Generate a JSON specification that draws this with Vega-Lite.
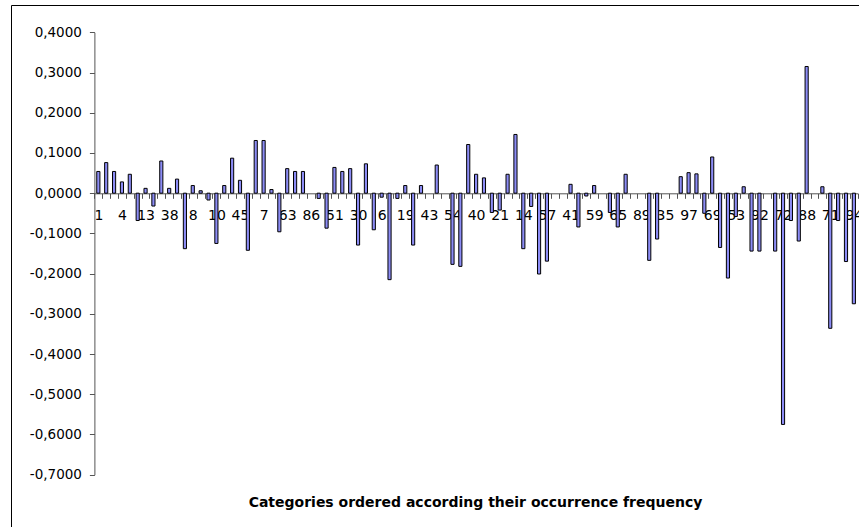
{
  "$schema": "https://vega.github.io/schema/vega-lite/v6.json",
  "autosize": {"type": "none"},
  "width": 848,
  "height": 522,
  "padding": {"left": 11, "top": 5, "right": 0, "bottom": 0},
  "background": "white",
  "config": {
    "view": {"stroke": "#000000", "strokeWidth": 1},
    "font": "DejaVu Sans"
  },
  "data": {
    "values": [
      {"category": "1", "value": 0.054},
      {"category": "2", "value": 0.076},
      {"category": "3", "value": 0.054},
      {"category": "4", "value": 0.028},
      {"category": "5", "value": 0.047},
      {"category": "9", "value": -0.068},
      {"category": "13", "value": 0.012},
      {"category": "11", "value": -0.032},
      {"category": "12", "value": 0.080},
      {"category": "38", "value": 0.012},
      {"category": "15", "value": 0.035},
      {"category": "16", "value": -0.138},
      {"category": "8", "value": 0.019},
      {"category": "17", "value": 0.006},
      {"category": "18", "value": -0.017},
      {"category": "10", "value": -0.125},
      {"category": "20", "value": 0.019},
      {"category": "22", "value": 0.087},
      {"category": "45", "value": 0.032},
      {"category": "23", "value": -0.142},
      {"category": "24", "value": 0.131},
      {"category": "7", "value": 0.131},
      {"category": "25", "value": 0.009},
      {"category": "26", "value": -0.096},
      {"category": "63", "value": 0.061},
      {"category": "27", "value": 0.054},
      {"category": "28", "value": 0.054},
      {"category": "86", "value": 0},
      {"category": "29", "value": -0.013},
      {"category": "31", "value": -0.087},
      {"category": "51", "value": 0.064},
      {"category": "32", "value": 0.054},
      {"category": "33", "value": 0.061},
      {"category": "30", "value": -0.129},
      {"category": "34", "value": 0.073},
      {"category": "36", "value": -0.091},
      {"category": "6", "value": -0.010},
      {"category": "37", "value": -0.215},
      {"category": "39", "value": -0.013},
      {"category": "19", "value": 0.019},
      {"category": "42", "value": -0.129},
      {"category": "44", "value": 0.019},
      {"category": "43", "value": 0},
      {"category": "46", "value": 0.070},
      {"category": "47", "value": 0},
      {"category": "54", "value": -0.177},
      {"category": "48", "value": -0.182},
      {"category": "49", "value": 0.121},
      {"category": "40", "value": 0.047},
      {"category": "50", "value": 0.038},
      {"category": "52", "value": -0.048},
      {"category": "21", "value": -0.042},
      {"category": "55", "value": 0.047},
      {"category": "56", "value": 0.146},
      {"category": "14", "value": -0.138},
      {"category": "58", "value": -0.033},
      {"category": "60", "value": -0.201},
      {"category": "57", "value": -0.169},
      {"category": "61", "value": 0},
      {"category": "62", "value": 0},
      {"category": "41", "value": 0.022},
      {"category": "64", "value": -0.084},
      {"category": "66", "value": -0.007},
      {"category": "59", "value": 0.019},
      {"category": "67", "value": 0},
      {"category": "68", "value": -0.048},
      {"category": "65", "value": -0.084},
      {"category": "70", "value": 0.047},
      {"category": "73", "value": 0},
      {"category": "89", "value": 0},
      {"category": "74", "value": -0.167},
      {"category": "75", "value": -0.114},
      {"category": "35", "value": 0},
      {"category": "76", "value": 0},
      {"category": "77", "value": 0.041},
      {"category": "97", "value": 0.051},
      {"category": "78", "value": 0.048},
      {"category": "79", "value": -0.050},
      {"category": "69", "value": 0.090},
      {"category": "80", "value": -0.135},
      {"category": "81", "value": -0.211},
      {"category": "53", "value": -0.058},
      {"category": "82", "value": 0.016},
      {"category": "83", "value": -0.144},
      {"category": "92", "value": -0.144},
      {"category": "84", "value": 0},
      {"category": "85", "value": -0.144},
      {"category": "72", "value": -0.575},
      {"category": "87", "value": -0.068},
      {"category": "90", "value": -0.119},
      {"category": "88", "value": 0.315},
      {"category": "91", "value": 0},
      {"category": "93", "value": 0.016},
      {"category": "71", "value": -0.336},
      {"category": "95", "value": -0.068},
      {"category": "96", "value": -0.170},
      {"category": "94", "value": -0.275}
    ]
  },
  "mark": {"type": "bar", "width": {"band": 0.4}, "fill": "#8c8cf5", "stroke": "#000000", "strokeWidth": 1},
  "encoding": {
    "x": {
      "field": "category",
      "type": "nominal",
      "sort": null,
      "scale": {"range": [83.4, 846.8], "paddingInner": 0, "paddingOuter": 0},
      "axis": {
        "offset": -333.7,
        "tickBand": "extent",
        "tickSize": 5,
        "tickColor": "#555555",
        "domainColor": "#555555",
        "labelAngle": 0,
        "labelOverlap": false,
        "labelFont": "DejaVu Sans",
        "labelFontSize": 14,
        "labelColor": "#000000",
        "labelPadding": 10,
        "labelExpr": "round(datum.index * 96) % 3 === 0 ? datum.label : ''",
        "title": "Categories ordered according their occurrence frequency",
        "titleFont": "DejaVu Sans",
        "titleFontSize": 14,
        "titleFontWeight": "bold",
        "titleColor": "#000000",
        "titleX": 464,
        "titleY": 308.7,
        "titleAlign": "center",
        "titleBaseline": "middle"
      }
    },
    "y": {
      "field": "value",
      "type": "quantitative",
      "scale": {"domain": [-0.7, 0.4], "range": [469.7, 27.3], "nice": false, "zero": false},
      "axis": {
        "offset": -83.4,
        "values": [-0.7, -0.6, -0.5, -0.4, -0.3, -0.2, -0.1, 0, 0.1, 0.2, 0.3, 0.4],
        "labelExpr": "replace(replace(format(datum.value, '.4f'), '.', ','), '\u2212', '-')",
        "tickSize": 5,
        "tickColor": "#555555",
        "domainColor": "#555555",
        "grid": false,
        "labelFont": "DejaVu Sans",
        "labelFontSize": 13.5,
        "labelColor": "#000000",
        "labelPadding": 8,
        "title": null
      }
    },
    "y2": {"datum": 0},
    "strokeOpacity": {"condition": {"test": "datum.value === 0", "value": 0}, "value": 1}
  }
}
